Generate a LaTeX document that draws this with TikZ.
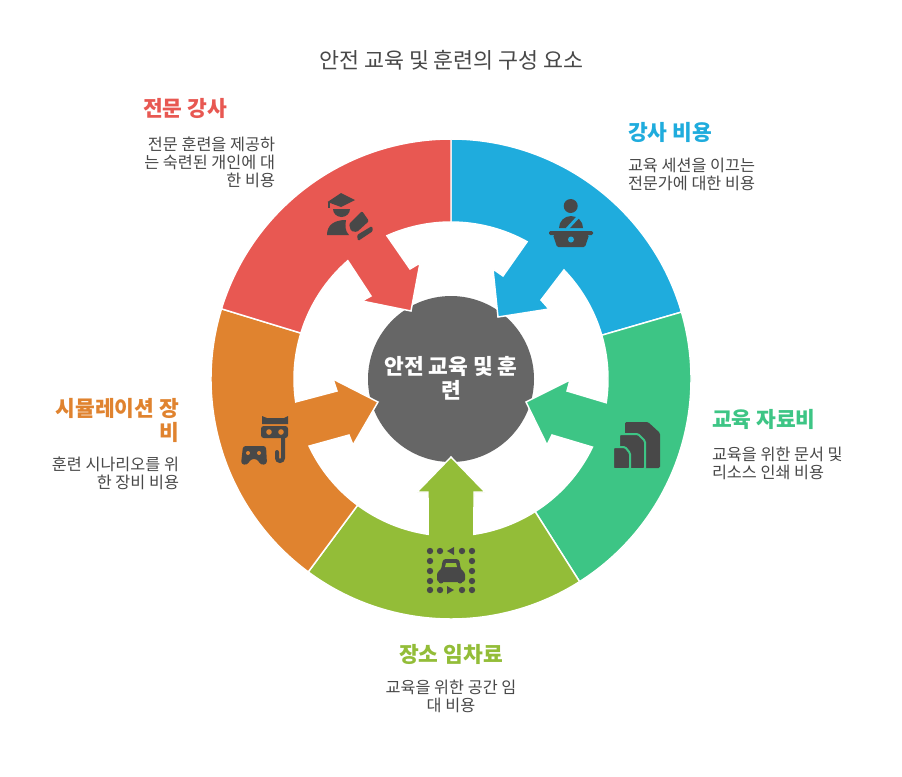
\documentclass[tikz,border=0pt]{standalone}
\usepackage{fontspec}
\setmainfont{Noto Sans CJK KR}
\usetikzlibrary{positioning}
\definecolor{segred}{HTML}{E85852}
\definecolor{segblue}{HTML}{1FACDD}
\definecolor{seggreen}{HTML}{3DC585}
\definecolor{segolive}{HTML}{93BD38}
\definecolor{segorange}{HTML}{E0832F}
\definecolor{hubgray}{HTML}{666666}
\definecolor{inkgray}{HTML}{484848}

\begin{document}
\begin{tikzpicture}[
      x=0.75pt, y=0.75pt,
      every node/.style={inner sep=0pt, outer sep=0pt, text=inkgray},
      segment/.style={draw=white, line width=1.1pt, line join=miter},
      heading/.style={font=\fontsize{16.1}{18}\selectfont\bfseries},
      blurb/.style={font=\fontsize{12.2}{13.5}\selectfont},
      icon/.style={fill=inkgray, draw=none},
  ]
    \useasboundingbox (0,0) rectangle (902,-776);
    \fill[white] (0,0) rectangle (902,-776);
    \coordinate (ctr) at (451,-379);

    \node[circle, fill=hubgray, minimum size=124.5pt] (hub) at (ctr) {};

    % ring segments, each one runs into its own arrow
    \fill[segment, fill=segblue] ([shift={(90:240)}]ctr) arc[start angle=90, end angle=16.2, radius=240]
      -- ([shift={(16.2:157)}]ctr) arc[start angle=16.2, end angle=44, radius=157]
      -- (541,-300) -- (549,-309) -- (498,-317) -- (493,-269) -- (503,-276)
      -- ([shift={(61:157)}]ctr) arc[start angle=61, end angle=90, radius=157] -- cycle;
    \fill[segment, fill=seggreen] ([shift={(16.2:240)}]ctr) arc[start angle=16.2, end angle=-57.6, radius=240]
      -- ([shift={(-57.6:157)}]ctr) arc[start angle=-57.6, end angle=-25.7, radius=157]
      -- (552,-435) -- (547,-445) -- (526,-402) -- (570,-380) -- (567,-391)
      -- ([shift={(-8.7:157)}]ctr) arc[start angle=-8.7, end angle=16.2, radius=157] -- cycle;
    \fill[segment, fill=segolive] ([shift={(-57.6:240)}]ctr) arc[start angle=-57.6, end angle=-126.5, radius=240]
      -- ([shift={(-126.5:157)}]ctr) arc[start angle=-126.5, end angle=-98.4, radius=157]
      -- (428,-492) -- (417,-492) -- (451,-457) -- (485,-492) -- (474,-492)
      -- ([shift={(-81.6:157)}]ctr) arc[start angle=-81.6, end angle=-57.6, radius=157] -- cycle;
    \fill[segment, fill=segorange] ([shift={(-126.5:240)}]ctr) arc[start angle=-126.5, end angle=-197, radius=240]
      -- ([shift={(163:157)}]ctr) arc[start angle=163, end angle=188.4, radius=157]
      -- (337,-391) -- (333,-379) -- (378,-402) -- (353,-445) -- (349,-435)
      -- ([shift={(205.3:157)}]ctr) arc[start angle=205.3, end angle=233.5, radius=157] -- cycle;
    \fill[segment, fill=segred] ([shift={(163:240)}]ctr) arc[start angle=163, end angle=90, radius=240]
      -- ([shift={(90:157)}]ctr) arc[start angle=90, end angle=114.1, radius=157]
      -- (410,-269) -- (420,-263) -- (411,-311) -- (362,-301) -- (371,-296)
      -- ([shift={(131.1:157)}]ctr) arc[start angle=131.1, end angle=163, radius=157] -- cycle;

    \node[align=center, text=white, font=\fontsize{16.1}{18}\selectfont\bfseries] (hubtext) at (451,-378)
      {안전 교육 및 훈\\련};

    \node[font=\fontsize{16.3}{20}\selectfont] (title) at (451.5,-60) {안전 교육 및 훈련의 구성 요소};

    \node[heading, text=segred, anchor=east] (redhead) at (227,-108.5) {전문 강사};
    \node[blurb, align=right, anchor=north east] (redtext) at (275,-137)
      {전문 훈련을 제공하\\는 숙련된 개인에 대\\한 비용};
    \node[heading, text=segblue, anchor=west] (bluehead) at (628,-132.5) {강사 비용};
    \node[blurb, align=left, anchor=north west] (bluetext) at (628,-158.5)
      {교육 세션을 이끄는\\전문가에 대한 비용};
    \node[heading, text=seggreen, anchor=west] (greenhead) at (712,-419.5) {교육 자료비};
    \node[blurb, align=left, anchor=north west] (greentext) at (712,-447)
      {교육을 위한 문서 및\\리소스 인쇄 비용};
    \node[heading, text=segolive] (olivehead) at (451,-654) {장소 임차료};
    \node[blurb, align=center, anchor=north] (olivetext) at (451,-680.5)
      {교육을 위한 공간 임\\대 비용};
    \node[heading, text=segorange, align=right, anchor=north east] (orangehead) at (179,-398)
      {시뮬레이션 장\\비};
    \node[blurb, align=right, anchor=north east] (orangetext) at (179,-456.5)
      {훈련 시나리오를 위\\한 장비 비용};

    % red icon
    \fill[icon] (327.5,-202) -- (341,-193) -- (355,-200) -- (341,-207) -- cycle;
    \fill[icon] (327.5,-202) rectangle (330,-208);
    \fill[icon] (333,-209) arc[start angle=180, end angle=360, x radius=8.5, y radius=8] -- cycle;
    \fill[icon] (327,-235) .. controls (327,-225) and (334,-220) .. (346,-220) .. controls (345,-226) and (345,-231) .. (349,-235) -- cycle;
    \fill[icon, rounded corners=1pt] (349,-224) -- (362,-211) -- (369,-221) -- (357,-232) -- (351,-231) -- cycle;
    \fill[icon, rounded corners=1pt] (357,-235) -- (372,-226) -- (373,-231) -- (358,-241) -- cycle;

    % blue icon
    \fill[icon] (570.7,-206) circle[radius=7];
    \fill[icon] (559,-228) arc[start angle=180, end angle=0, radius=12] -- cycle;
    \draw[segblue, line width=2.2pt] (567,-229) -- (579,-216);
    \fill[icon, rounded corners=1pt] (549,-231) rectangle (593,-235);
    \fill[icon, rounded corners=1pt] (553,-235) -- (589,-235) -- (585,-247) -- (557,-247) -- cycle;
    \fill[segblue] (571,-239.5) circle[radius=3];

    % green icon
    \fill[icon, rounded corners=1pt] (625,-422) -- (648,-422) -- (660,-433) -- (660,-468) -- (625,-468) -- cycle;
    \filldraw[icon, draw=seggreen, line width=1.5pt, rounded corners=1pt] (619,-434) -- (638,-434) -- (645,-441) -- (645,-469) -- (619,-469) -- cycle;
    \filldraw[icon, draw=seggreen, line width=1.5pt, rounded corners=1pt] (613,-447) -- (625,-447) -- (630,-453) -- (630,-469) -- (613,-469) -- cycle;

    % olive icon
    \foreach \px/\py in {430/551, 440/551, 462/551, 472/551, 430/561, 472/561, 430/571, 472/571,
                         430/581, 472/581, 430/590, 440/590, 462/590, 472/590}
      \fill[icon] (\px,-\py) circle[radius=3.2];
    \fill[icon] (447,-551) -- (454,-547) -- (454,-555) -- cycle;
    \fill[icon] (447,-586) -- (454,-590) -- (447,-594) -- cycle;
    \fill[icon, rounded corners=2pt] (437,-582) -- (437,-572) -- (441,-570) -- (443,-559) -- (459,-559) -- (461,-570) -- (465,-572) -- (465,-582) -- cycle;
    \fill[icon] (441,-581) circle[radius=2.5];
    \fill[icon] (460,-581) circle[radius=2.5];
    \fill[segolive] (446,-563) -- (456,-563) -- (457,-567) -- (445,-567) -- cycle;

    % orange icon
    \fill[icon] (262,-416) -- (267,-418) -- (284,-418) -- (288,-416) -- (288,-424) -- (262,-424) -- cycle;
    \fill[icon, rounded corners=2pt] (261,-426) rectangle (288,-438);
    \fill[segorange] (269,-432) circle[radius=2.8];
    \fill[segorange] (281,-432) circle[radius=2.8];
    \draw[inkgray, line width=3pt, line cap=round] (283,-438) -- (283,-458) arc[start angle=0, end angle=-180, radius=3] -- (277,-452);
    \fill[icon, rounded corners=2pt] (241,-464) -- (243,-446) -- (266,-446) -- (267,-464) -- (261,-465) -- (257,-459) -- (251,-459) -- (247,-465) -- cycle;
    \fill[segorange] (248,-453) circle[radius=2];
    \fill[segorange] (259,-453) circle[radius=2];
  \end{tikzpicture}
\end{document}
